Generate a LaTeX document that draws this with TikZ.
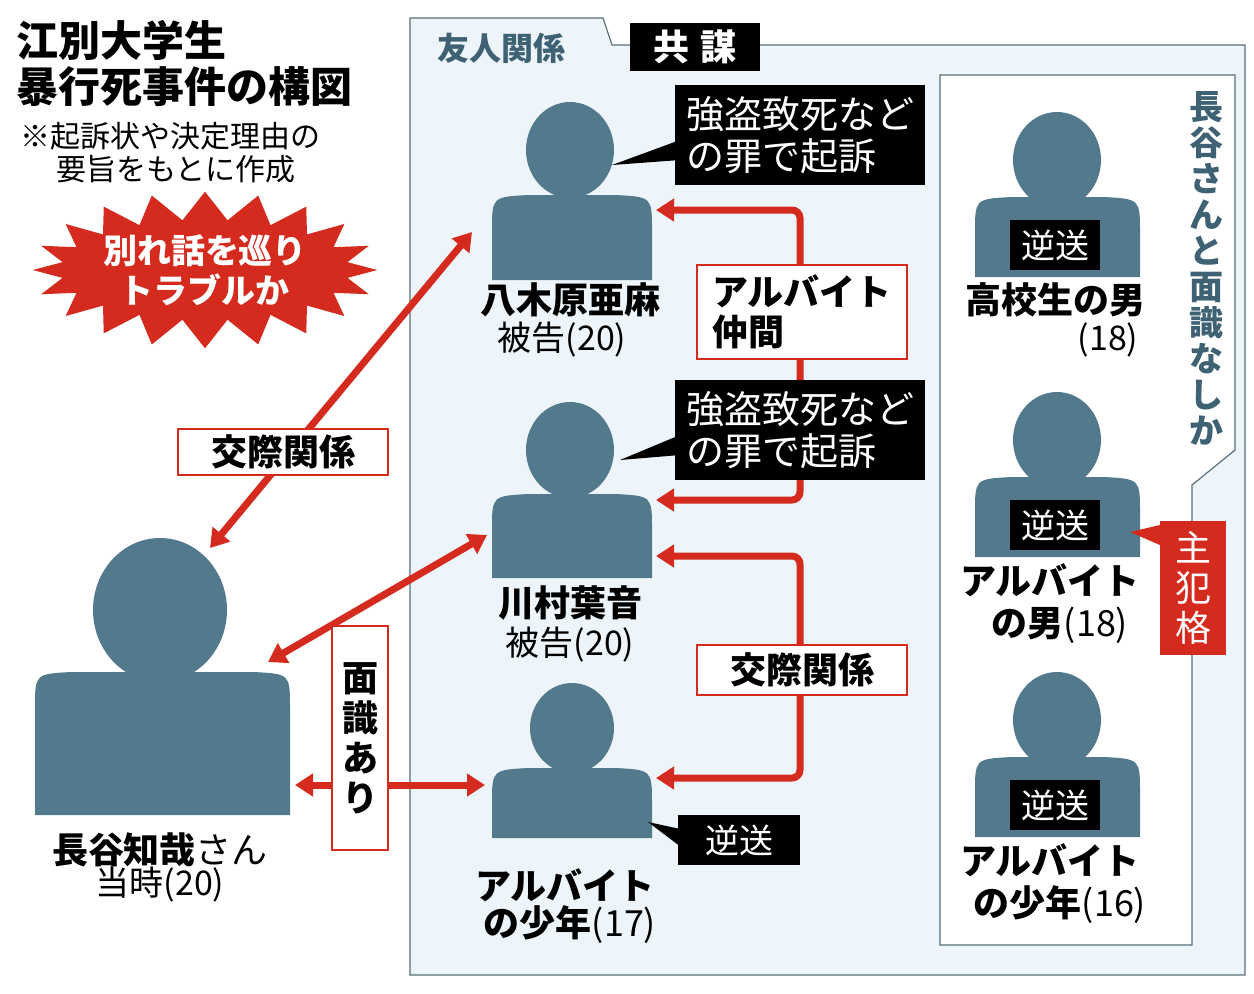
\documentclass[tikz,border=0pt]{standalone}
\usepackage{fontspec}
\setmainfont{Noto Sans CJK JP}
\usetikzlibrary{arrows.meta,shapes.symbols}
\definecolor{pblue}{HTML}{527A8C}
\definecolor{pbg}{HTML}{EEF5FA}
\definecolor{myred}{HTML}{D52A1E}
\definecolor{frame}{HTML}{56707C}
\definecolor{tblue}{HTML}{3E6274}
% body: x1, top, x2, bottom
\newcommand\pbody[4]{\fill[pblue] (#1,#4) -- (#1,#2+36) .. controls (#1,#2+2) .. (#1+36,#2) -- (#3-36,#2) .. controls (#3,#2+2) .. (#3,#2+36) -- (#3,#4) -- cycle;}
\begin{document}
\begin{tikzpicture}[x=0.5pt,y=-0.5pt,
  arr/.style={myred,line width=3.5pt,{Triangle[length=9pt,width=11pt]}-{Triangle[length=9pt,width=11pt]}},
  harr/.style={myred,line width=3.5pt,-{Triangle[length=9pt,width=11pt]}},
  rlab/.style={draw=myred,line width=0.8pt,fill=white,font=\bfseries\fontsize{18}{20}\selectfont,inner sep=3pt},
  blk/.style={fill=black,text=white,font=\fontsize{19}{21}\selectfont,align=left,inner sep=4pt},
  nm/.style={font=\bfseries\fontsize{18}{20}\selectfont,inner sep=0pt},
  sub/.style={font=\fontsize{17}{19}\selectfont,inner sep=0pt}]
\useasboundingbox (0,0) rectangle (1254,993);
\fill[white] (0,0) rectangle (1254,993);
% main panel
\draw[frame,fill=pbg,line width=0.6pt] (410,975) -- (410,18) -- (603,18) -- (612,45) -- (1245,45) -- (1245,975) -- cycle;
\node[font=\bfseries\fontsize{16}{18}\selectfont,text=tblue,anchor=west] (yujin) at (430,48) {友人関係};
\node[fill=black,text=white,font=\bfseries\fontsize{18}{20}\selectfont,minimum width=65pt,minimum height=21pt] (kyobo) at (695,47) {共\,\,謀};
% right inner panel
\draw[frame,fill=white,line width=0.6pt] (940,945) -- (940,75) -- (1235,75) -- (1235,450) -- (1192,485) -- (1192,945) -- cycle;
\node[text=tblue,font=\bfseries\fontsize{17}{18}\selectfont,align=center,inner sep=0pt] (nashi) at (1206,268) {長\\谷\\さ\\ん\\と\\面\\識\\な\\し\\か};
% title
\node[anchor=north west,align=left,font=\bfseries\fontsize{21}{23}\selectfont,inner sep=0pt] (title) at (16,20) {江別大学生\\暴行死事件の構図};
\node[anchor=north west,align=left,font=\fontsize{15}{16.5}\selectfont,inner sep=0pt] (note) at (20,122) {※起訴状や決定理由の\\\hspace{1.2em}要旨をもとに作成};
% starburst
\node[starburst,starburst points=20,starburst point height=14pt,random starburst=0,fill=myred,minimum width=170pt,minimum height=78pt,text=white,align=center,font=\bfseries\fontsize{17}{20}\selectfont,inner sep=0pt] (burst) at (205,270) {別れ話を巡り\\トラブルか};
% Hase
\fill[pblue] (160,610) ellipse [x radius=67, y radius=72];
\pbody{35}{672}{290}{815}
\node[nm] (hasename) at (160,850) {長谷知哉\textmd{さん}};
\node[sub] (haseage) at (160,885) {当時(20)};
% Yagihara
\fill[pblue] (570,150) ellipse [x radius=44, y radius=48];
\pbody{492}{195}{652}{280}
\node[nm] (yname) at (570,300) {八木原亜麻};
\node[sub] (yage) at (562,340) {被告(20)};
% Kawamura
\fill[pblue] (570,450) ellipse [x radius=44, y radius=48];
\pbody{492}{494}{652}{578}
\node[nm] (kname) at (570,603) {川村葉音};
\node[sub] (kage) at (570,645) {被告(20)};
% Boy 17
\fill[pblue] (572,728) ellipse [x radius=42, y radius=45];
\pbody{492}{768}{652}{838}
\node[nm] (b17a) at (565,885) {アルバイト};
\node[nm] (b17b) at (570,925) {の少年\textmd{(17)}};
% right persons
\foreach \yy/\n in {160/r1,440/r2,720/r3}{
  \fill[pblue] (1057,\yy) ellipse [x radius=44, y radius=48];
  \pbody{975}{\yy+37}{1140}{\yy+117}
  \node[fill=black,text=white,font=\fontsize{17}{19}\selectfont,minimum width=45pt,minimum height=25pt,inner sep=0pt] (\n) at (1055,\yy+85) {逆送};
}
\node[nm] (r1a) at (1055,300) {高校生の男};
\node[sub] (r1b) at (1108,340) {(18)};
\node[nm] (r2a) at (1050,580) {アルバイト};
\node[nm] (r2b) at (1060,625) {の男\textmd{(18)}};
\node[nm] (r3a) at (1050,860) {アルバイト};
\node[nm] (r3b) at (1060,905) {の少年\textmd{(16)}};
% shuhan
\fill[myred] (1160,525) -- (1130,532) -- (1160,545) -- cycle;
\node[fill=myred,text=white,font=\fontsize{18}{20}\selectfont,align=center,minimum width=33pt,minimum height=67pt,inner sep=0pt] (shuhan) at (1193,588) {主\\犯\\格};
% brackets (behind boxes)
\coordinate (ytip) at (656,210);
\coordinate (ktip1) at (656,500);
\coordinate (ktip2) at (656,556);
\coordinate (btip) at (656,778);
\draw[harr,rounded corners=4pt] (800,360) -- (800,210) -- (ytip);
\draw[harr,rounded corners=4pt] (800,360) -- (800,500) -- (ktip1);
\draw[harr,rounded corners=4pt] (800,670) -- (800,556) -- (ktip2);
\draw[harr,rounded corners=4pt] (800,670) -- (800,778) -- (btip);
\node[rlab,minimum width=105pt,minimum height=47pt,align=left] (baito) at (802,312) {アルバイト\\仲間};
\node[rlab,minimum width=105pt,minimum height=25pt] (kosai2) at (802,670) {交際関係};
% speech boxes
\fill (680,140) -- (612,165) -- (680,160) -- cycle;
\node[blk,minimum width=125pt,minimum height=50pt] (kiso1) at (800,135) {強盗致死など\\の罪で起訴};
\fill (680,435) -- (620,460) -- (680,455) -- cycle;
\node[blk,minimum width=125pt,minimum height=50pt] (kiso2) at (800,430) {強盗致死など\\の罪で起訴};
\fill (685,830) -- (648,822) -- (685,850) -- cycle;
\node[fill=black,text=white,font=\fontsize{17}{19}\selectfont,minimum width=61pt,minimum height=25pt] (gyaku) at (739,840) {逆送};
% left arrows
\coordinate (a1) at (210,548);
\coordinate (a2) at (472,232);
\draw[arr] (a1) -- (a2);
\node[rlab,minimum width=105pt,minimum height=23pt] (kosai1) at (283,452) {交際関係};
\coordinate (a3) at (268,662);
\coordinate (a4) at (487,535);
\draw[arr] (a3) -- (a4);
\coordinate (a5) at (295,785);
\coordinate (a6) at (485,785);
\draw[arr] (a5) -- (a6);
\node[draw=myred,line width=0.8pt,fill=white,align=center,font=\bfseries\fontsize{18}{20}\selectfont,minimum width=28pt,minimum height=112pt,inner sep=0pt] (menshiki) at (360,738) {面\\識\\あ\\り};
\end{tikzpicture}
\end{document}
